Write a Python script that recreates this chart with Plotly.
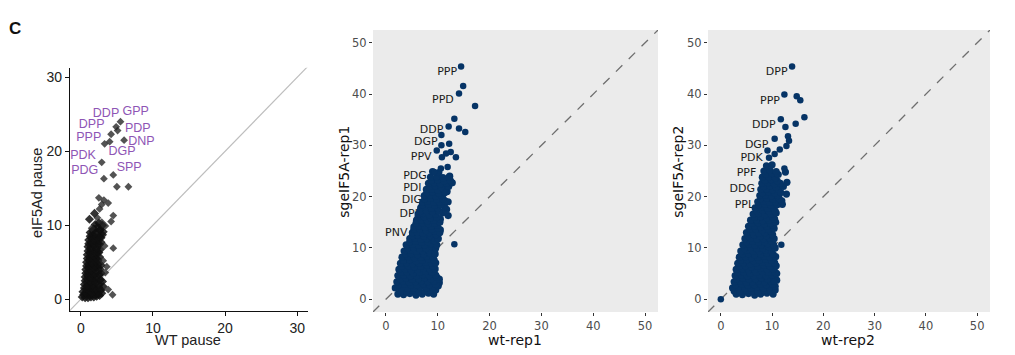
import plotly.graph_objects as go

W, H = 1015, 355

# ---------------- Panel 1 data: WT pause vs eIF5Ad pause ----------------
p1_sparse_x = [5.5, 4.9, 5.1, 4.2, 6.0, 4.0, 3.3, 2.9, 4.5, 3.2, 5.0, 6.6,
               2.5, 3.2, 3.8, 2.9, 2.6, 4.5, 4.2, 1.5, 3.3, 4.5, 3.8, 4.4, 3.4, 3.1, 3.6, 2.9, 3.4, 2.3]
p1_sparse_y = [24.0, 23.3, 22.8, 22.3, 21.5, 21.3, 21.0, 18.5, 16.8, 16.3, 15.2, 15.2,
               13.7, 13.4, 13.0, 12.8, 12.2, 11.3, 10.5, 9.6, 7.2, 6.9, 1.3, 0.6, 3.6, 5.2, 4.4, 10.4, 9.9, 11.0]
p1_x = [0.2, 0.6, 1.0, 1.4, 1.8, 2.2, 2.6,
        0.4, 0.8, 1.2, 1.6, 2.0, 2.4, 2.9,
        0.3, 0.7, 1.1, 1.5, 1.9, 2.3, 2.8,
        0.5, 0.9, 1.3, 1.7, 2.1, 2.5, 3.1,
        0.5, 0.9, 1.3, 1.7, 2.1, 2.5, 3.0,
        0.6, 1.0, 1.4, 1.8, 2.2, 2.7,
        0.6, 1.0, 1.4, 1.8, 2.2, 2.6,
        0.7, 1.1, 1.5, 1.9, 2.3, 2.8,
        0.7, 1.1, 1.5, 1.9, 2.3, 2.7,
        0.8, 1.2, 1.6, 2.0, 2.4, 2.8,
        0.8, 1.2, 1.6, 2.0, 2.4,
        0.9, 1.3, 1.7, 2.1, 2.6,
        0.9, 1.3, 1.7, 2.1, 2.5,
        1.0, 1.4, 1.8, 2.2, 2.7,
        1.0, 1.4, 1.8, 2.2, 2.6,
        1.1, 1.5, 1.9, 2.3, 2.8,
        1.1, 1.5, 1.9, 2.3, 2.8,
        1.3, 1.7, 2.1, 2.5, 3.0,
        1.3, 1.7, 2.1, 2.6, 3.1,
        1.8, 2.2, 2.7,
        2.0, 2.5, 3.0, 1.2, 1.9]
p1_y = [0.3, 0.2, 0.2, 0.3, 0.3, 0.4, 0.5,
        0.6, 0.7, 0.6, 0.7, 0.6, 0.7, 0.8,
        1.0, 0.9, 1.0, 0.9, 1.1, 1.0, 1.2,
        1.5, 1.4, 1.6, 1.5, 1.4, 1.6, 1.7,
        2.0, 1.8, 2.1, 1.9, 2.2, 2.0, 2.4,
        2.5, 2.6, 2.4, 2.5, 2.7, 2.6,
        3.0, 3.1, 2.9, 3.2, 3.0, 3.3,
        3.5, 3.6, 3.4, 3.5, 3.7, 3.5,
        4.0, 4.2, 3.9, 4.1, 4.3, 4.0,
        4.5, 4.6, 4.4, 4.5, 4.7, 4.6,
        5.0, 5.2, 4.9, 5.1, 5.3,
        5.5, 5.6, 5.4, 5.5, 5.7,
        6.0, 6.2, 5.9, 6.1, 6.3,
        6.5, 6.6, 6.4, 6.5, 6.7,
        7.1, 7.0, 7.2, 6.9, 7.4,
        7.5, 7.6, 7.4, 7.5, 7.7,
        8.0, 8.2, 7.9, 8.1, 8.3,
        8.5, 8.6, 8.4, 8.5, 8.7,
        9.0, 9.2, 8.9, 9.3, 9.1,
        9.5, 9.6, 9.4,
        10.1, 10.3, 10.0, 10.8, 11.6]
p1_lab = ["DDP", "GPP", "DPP", "PDP", "PPP", "DNP", "PDK", "DGP", "PDG", "SPP"]
p1_lab_x = [3.5, 7.6, 1.5, 7.9, 1.1, 8.4, 0.3, 5.7, 0.55, 6.7]
p1_lab_y = [25.0, 25.3, 23.5, 23.0, 21.8, 21.3, 19.4, 19.9, 17.3, 17.7]

# ---------------- Panel 2 data: wt-rep1 vs sgeIF5A-rep1 ----------------
p2_sparse_x = [14.5, 14.9, 14.1, 17.2, 13.2, 12.1, 14.1, 15.3, 10.7, 12.2, 10.7, 9.8, 12.5, 11.6,
               10.8, 13.5, 11.9, 10.6, 9.3, 13.2]
p2_sparse_y = [45.4, 41.6, 40.1, 37.7, 35.2, 33.7, 33.3, 32.6, 32.0, 30.3, 30.0, 29.0, 28.7, 28.4,
               27.7, 27.7, 25.8, 25.5, 24.8, 10.7]
p2_x = [12.3, 12.6, 11.8, 12.0, 11.7, 12.0, 10.5, 10.3,
        2.3, 3.4, 4.6, 5.8, 7.0, 8.2, 9.2,
        2.9, 4.0, 5.2, 6.4, 7.6, 8.6, 9.6,
        1.8, 3.0, 4.2, 5.4, 6.6, 7.8, 9.0, 10.1,
        2.4, 3.6, 4.8, 6.0, 7.2, 8.4, 9.6,
        2.1, 3.3, 4.5, 5.7, 6.9, 8.1, 9.3, 10.3,
        2.7, 3.9, 5.1, 6.3, 7.5, 8.7, 9.8,
        2.3, 3.5, 4.7, 5.9, 7.1, 8.3, 9.6,
        2.9, 4.1, 5.3, 6.5, 7.7, 8.9,
        2.5, 3.7, 4.9, 6.1, 7.3, 8.5, 9.5,
        3.1, 4.3, 5.5, 6.7, 7.9, 9.1,
        2.8, 4.0, 5.2, 6.4, 7.6, 8.8, 9.6,
        3.4, 4.6, 5.8, 7.0, 8.2, 9.3,
        3.1, 4.3, 5.5, 6.7, 7.9, 9.1,
        3.8, 4.9, 6.1, 7.3, 8.5, 9.5,
        3.5, 4.7, 5.9, 7.1, 8.3, 9.4,
        4.2, 5.3, 6.5, 7.7, 8.9, 9.6,
        3.9, 5.1, 6.3, 7.5, 8.7, 9.8,
        4.6, 5.7, 6.9, 8.1, 9.3,
        4.6, 5.6, 6.7, 7.9, 9.1, 10.1,
        5.1, 6.1, 7.3, 8.5, 9.7,
        5.1, 6.0, 7.1, 8.3, 9.5, 10.4,
        5.4, 6.5, 7.7, 8.9, 10.1,
        5.4, 6.3, 7.5, 8.7, 9.9,
        5.8, 7.0, 8.2, 9.4, 10.4,
        5.9, 6.8, 8.0, 9.2, 10.5,
        6.2, 7.4, 8.6, 9.8,
        6.2, 7.2, 8.4, 9.6, 10.9,
        6.6, 7.8, 9.0, 10.2,
        6.7, 7.6, 8.8, 10.0, 11.3,
        7.0, 8.2, 9.4, 10.6,
        7.1, 8.0, 9.2, 10.3, 11.4,
        7.5, 8.6, 9.8, 11.0,
        7.4, 8.5, 9.6, 10.8,
        7.9, 9.0, 10.2, 11.4,
        7.8, 8.9, 10.0, 11.3,
        8.4, 9.5, 10.7, 12.1,
        8.2, 9.3, 10.5, 11.7, 12.8,
        8.8, 10.0, 11.2, 12.4,
        8.6, 9.8, 11.0, 12.2,
        9.0, 10.2]
p2_y = [24.0, 22.8, 21.0, 19.0, 17.5, 16.3, 13.5, 3.2,
        1.0, 0.9, 1.1, 0.8, 1.0, 1.2, 1.0,
        1.6, 1.5, 1.7, 1.6, 1.5, 1.7, 1.8,
        2.2, 2.3, 2.1, 2.2, 2.4, 2.2, 2.3, 2.6,
        2.8, 2.9, 2.7, 2.8, 3.0, 2.8, 2.9,
        3.4, 3.5, 3.3, 3.4, 3.6, 3.4, 3.5, 3.9,
        4.0, 4.1, 3.9, 4.0, 4.2, 4.0, 4.3,
        4.6, 4.7, 4.5, 4.6, 4.8, 4.6, 4.7,
        5.2, 5.3, 5.1, 5.2, 5.4, 5.2,
        5.8, 5.9, 5.7, 5.8, 6.0, 5.8, 5.9,
        6.4, 6.5, 6.3, 6.4, 6.6, 6.4,
        7.0, 7.1, 6.9, 7.0, 7.2, 7.0, 7.1,
        7.6, 7.7, 7.5, 7.6, 7.8, 7.6,
        8.2, 8.3, 8.1, 8.2, 8.4, 8.2,
        8.8, 8.9, 8.7, 8.8, 9.0, 8.8,
        9.4, 9.5, 9.3, 9.4, 9.6, 9.4,
        10.0, 10.1, 9.9, 10.0, 10.2, 10.0,
        10.6, 10.7, 10.5, 10.6, 10.8, 10.6,
        11.2, 11.3, 11.1, 11.2, 11.4,
        11.8, 11.9, 11.7, 11.8, 12.0, 11.8,
        12.4, 12.5, 12.3, 12.4, 12.6,
        13.0, 13.1, 12.9, 13.0, 13.2, 13.0,
        13.6, 13.7, 13.5, 13.6, 13.8,
        14.1, 14.3, 14.1, 14.2, 14.4,
        14.8, 14.9, 14.7, 14.8, 15.0,
        15.4, 15.5, 15.3, 15.4, 15.6,
        16.0, 16.1, 15.9, 16.0,
        16.6, 16.7, 16.5, 16.6, 16.8,
        17.2, 17.3, 17.1, 17.2,
        17.8, 17.9, 17.7, 17.8, 18.0,
        18.4, 18.5, 18.3, 18.4,
        19.0, 19.1, 18.9, 19.0, 19.2,
        19.6, 19.7, 19.5, 19.6,
        20.2, 20.3, 20.1, 20.2,
        20.8, 20.9, 20.7, 20.8,
        21.4, 21.5, 21.3, 21.4,
        22.0, 22.1, 21.9, 22.0,
        22.6, 22.7, 22.5, 22.6, 22.7,
        23.2, 23.3, 23.1, 23.2,
        23.8, 23.9, 23.7, 23.8,
        24.9, 24.7]
p2_lab = ["PPP", "PPD", "DDP", "DGP", "PPV", "PDG", "PDI", "DIG", "DPI", "PNV"]
p2_lab_x = [11.8, 11.0, 8.8, 7.7, 6.8, 5.6, 5.1, 5.0, 4.4, 2.0]
p2_lab_y = [44.2, 38.8, 33.0, 30.6, 27.7, 24.0, 21.6, 19.3, 16.6, 12.8]

# ---------------- Panel 3 data: wt-rep2 vs sgeIF5A-rep2 ----------------
p3_sparse_x = [13.9, 12.4, 14.8, 15.5, 16.3, 11.7, 14.6, 12.6, 13.1, 10.5, 13.3, 12.8, 9.1, 11.5,
               10.5, 9.4, 12.4, 0.0, 11.8, 10.4]
p3_sparse_y = [45.4, 39.9, 39.6, 38.8, 35.5, 35.1, 34.2, 33.6, 31.8, 31.3, 30.9, 29.9, 29.0, 29.2,
               28.3, 27.6, 25.5, 0.0, 10.6, 3.4]
p3_x = [12.8, 12.9, 12.6, 12.0,
        3.0, 4.2, 5.4, 6.6, 7.8, 9.0, 10.2,
        2.6, 3.7, 4.9, 6.1, 7.3, 8.5, 9.7, 10.6,
        2.3, 3.5, 4.7, 5.9, 7.1, 8.3, 9.5, 10.6,
        2.9, 4.1, 5.3, 6.5, 7.7, 8.9, 10.1,
        2.6, 3.8, 5.0, 6.2, 7.4, 8.6, 9.8, 10.9,
        3.1, 4.3, 5.5, 6.7, 7.9, 9.1, 10.3,
        2.8, 4.0, 5.2, 6.4, 7.6, 8.8, 10.0, 10.9,
        3.3, 4.5, 5.7, 6.9, 8.1, 9.3, 10.6,
        3.0, 4.2, 5.4, 6.6, 7.8, 9.0, 10.2,
        3.6, 4.8, 6.0, 7.2, 8.4, 9.6, 10.8,
        3.3, 4.5, 5.7, 6.9, 8.1, 9.3, 10.5,
        3.9, 5.1, 6.3, 7.5, 8.7, 9.9,
        3.6, 4.8, 6.0, 7.2, 8.4, 9.6, 10.7,
        4.2, 5.4, 6.6, 7.8, 9.0, 10.2,
        3.9, 5.1, 6.3, 7.5, 8.7, 9.9,
        4.6, 5.8, 7.0, 8.2, 9.4, 10.6,
        4.3, 5.5, 6.7, 7.9, 9.1, 10.3,
        5.0, 6.2, 7.4, 8.6, 9.8,
        4.7, 5.9, 7.1, 8.3, 9.5, 10.4,
        5.3, 6.5, 7.7, 8.9, 10.1,
        5.0, 6.2, 7.4, 8.6, 9.8,
        5.7, 6.9, 8.1, 9.3, 10.4,
        5.4, 6.6, 7.8, 9.0, 10.2,
        6.1, 7.3, 8.5, 9.7, 10.7,
        5.8, 7.0, 8.2, 9.4, 10.5,
        6.6, 7.8, 9.0, 10.2,
        6.3, 7.4, 8.6, 9.8, 10.8,
        7.0, 8.2, 9.4, 10.6,
        6.7, 7.9, 9.1, 10.3,
        7.4, 8.6, 9.8, 11.0,
        7.2, 8.3, 9.5, 10.7, 11.9,
        7.8, 9.0, 10.2, 11.4,
        7.6, 8.7, 9.9, 11.1,
        8.1, 9.3, 10.5, 11.7,
        7.8, 8.9, 10.1, 11.3,
        8.4, 9.6, 10.8, 12.2,
        8.0, 9.2, 10.4, 11.6,
        8.6, 9.8, 11.0,
        8.1, 9.4, 10.6,
        8.8, 10.0, 11.2,
        8.4, 9.6, 10.8,
        8.9, 10.0]
p3_y = [20.5, 22.8, 24.8, 18.5,
        1.0, 0.9, 1.1, 0.8, 1.0, 1.2, 1.0,
        1.6, 1.5, 1.7, 1.6, 1.5, 1.7, 1.6, 1.8,
        2.2, 2.3, 2.1, 2.2, 2.4, 2.2, 2.3, 2.5,
        2.8, 2.9, 2.7, 2.8, 3.0, 2.8, 2.9,
        3.4, 3.5, 3.3, 3.4, 3.6, 3.4, 3.5, 3.7,
        4.0, 4.1, 3.9, 4.0, 4.2, 4.0, 4.1,
        4.6, 4.7, 4.5, 4.6, 4.8, 4.6, 4.7, 5.0,
        5.2, 5.3, 5.1, 5.2, 5.4, 5.2, 5.3,
        5.8, 5.9, 5.7, 5.8, 6.0, 5.8, 5.9,
        6.4, 6.5, 6.3, 6.4, 6.6, 6.4, 6.5,
        7.0, 7.1, 6.9, 7.0, 7.2, 7.0, 7.1,
        7.6, 7.7, 7.5, 7.6, 7.8, 7.6,
        8.2, 8.3, 8.1, 8.2, 8.4, 8.2, 8.3,
        8.8, 8.9, 8.7, 8.8, 9.0, 8.8,
        9.4, 9.5, 9.3, 9.4, 9.6, 9.4,
        10.0, 10.1, 9.9, 10.0, 10.2, 10.0,
        10.6, 10.7, 10.5, 10.6, 10.8, 10.6,
        11.2, 11.3, 11.1, 11.2, 11.4,
        11.8, 11.9, 11.7, 11.8, 12.0, 11.8,
        12.4, 12.5, 12.3, 12.4, 12.6,
        13.0, 13.1, 12.9, 13.0, 13.2,
        13.6, 13.7, 13.5, 13.6, 13.8,
        14.2, 14.3, 14.1, 14.2, 14.4,
        14.8, 14.9, 14.7, 14.8, 15.0,
        15.4, 15.5, 15.3, 15.4, 15.6,
        16.0, 16.1, 15.9, 16.0,
        16.6, 16.7, 16.5, 16.6, 16.8,
        17.2, 17.3, 17.1, 17.2,
        17.8, 17.9, 17.7, 17.8,
        18.4, 18.5, 18.3, 18.4,
        19.0, 19.1, 18.9, 19.0, 19.2,
        19.6, 19.7, 19.5, 19.6,
        20.2, 20.3, 20.1, 20.2,
        20.8, 20.9, 20.7, 20.8,
        21.4, 21.5, 21.3, 21.4,
        22.0, 22.1, 21.9, 22.0,
        22.6, 22.7, 22.5, 22.6,
        23.2, 23.3, 23.1,
        23.8, 23.9, 23.7,
        24.4, 24.5, 24.3,
        25.0, 25.1, 24.9,
        26.0, 26.2]
p3_lab = ["DPP", "PPP", "DDP", "DGP", "PDK", "PPF", "DDG", "PPL"]
p3_lab_x = [10.9, 9.6, 8.4, 7.0, 6.0, 5.0, 4.2, 4.6]
p3_lab_y = [44.3, 38.6, 33.9, 30.1, 27.5, 24.6, 21.4, 18.4]

ticks_p1 = [0, 10, 20, 30]
ticks_p23 = [0, 10, 20, 30, 40, 50]
diag = [-5, 60]

NAVY = "#063466"
PURPLE = "#8e55b5"


def px2x(p):
    return p / W


def py2y(p):
    return 1 - p / H


fig = go.Figure()

# Panel 1
fig.add_trace(go.Scatter(x=diag, y=diag, mode="lines", line=dict(color="#bdbdbd", width=1.2),
                         xaxis="x", yaxis="y", hoverinfo="skip"))
fig.add_trace(go.Scatter(x=p1_x, y=p1_y, mode="markers",
                         marker=dict(symbol="diamond", size=7, color="rgba(15,15,15,0.85)", line=dict(width=0)),
                         xaxis="x", yaxis="y"))
fig.add_trace(go.Scatter(x=p1_sparse_x, y=p1_sparse_y, mode="markers",
                         marker=dict(symbol="diamond", size=6, color="rgba(35,35,35,0.78)", line=dict(width=0)),
                         xaxis="x", yaxis="y"))
fig.add_trace(go.Scatter(x=p1_lab_x, y=p1_lab_y, text=p1_lab, mode="text", textposition="middle center",
                         textfont=dict(family="Liberation Sans", size=12.5, color=PURPLE),
                         xaxis="x", yaxis="y", cliponaxis=False))

# Panels 2 and 3: labels drawn first so the points sit above them
for (ax, ay, sx, sy, dx, dy, lt, lx, ly) in [
        ("x2", "y2", p2_sparse_x, p2_sparse_y, p2_x, p2_y, p2_lab, p2_lab_x, p2_lab_y),
        ("x3", "y3", p3_sparse_x, p3_sparse_y, p3_x, p3_y, p3_lab, p3_lab_x, p3_lab_y)]:
    fig.add_trace(go.Scatter(x=diag, y=diag, mode="lines", line=dict(color="#6e6e6e", width=1.3, dash="dash"),
                             xaxis=ax, yaxis=ay, hoverinfo="skip"))
    fig.add_trace(go.Scatter(x=lx, y=ly, text=lt, mode="text", textposition="middle center",
                             textfont=dict(family="DejaVu Sans", size=11, color="#1a1a1a"),
                             xaxis=ax, yaxis=ay))
    fig.add_trace(go.Scatter(x=dx, y=dy, mode="markers",
                             marker=dict(size=7.2, color=NAVY, line=dict(width=0)),
                             xaxis=ax, yaxis=ay))
    fig.add_trace(go.Scatter(x=sx, y=sy, mode="markers",
                             marker=dict(size=6.5, color=NAVY, line=dict(width=0)),
                             xaxis=ax, yaxis=ay))

ydom = [py2y(312), py2y(30)]
ax1 = dict(domain=[px2x(70), px2x(308)], range=[-1.5, 31.5], tickvals=ticks_p1, showgrid=False,
           zeroline=False, showline=True, linecolor="#111", linewidth=1.2, ticks="outside",
           ticklen=4, tickcolor="#111", tickfont=dict(family="Liberation Sans", size=14, color="#222"))
ay1 = dict(ax1)
ay1["domain"] = [py2y(311), py2y(67.7)]
ay1["range"] = [-1.6, 31.3]
ax1["anchor"] = "y"
ay1["anchor"] = "x"


def ax23(dom, anchor):
    return dict(domain=dom, range=[-2.5, 52.5], tickvals=ticks_p23, showgrid=False, zeroline=False,
                showline=False, ticks="outside", ticklen=3, tickcolor="#333", anchor=anchor,
                tickfont=dict(family="DejaVu Sans", size=11.5, color="#4d4d4d"))


fig.update_layout(
    width=W, height=H, margin=dict(l=0, r=0, t=0, b=0),
    paper_bgcolor="white", plot_bgcolor="rgba(0,0,0,0)",
    xaxis=ax1, yaxis=ay1,
    xaxis2=ax23([px2x(373), px2x(658)], "y2"),
    yaxis2=ax23(ydom, "x2"),
    xaxis3=ax23([px2x(708), px2x(990)], "y3"),
    yaxis3=ax23(ydom, "x3"),
    showlegend=False,
)

for xr, yr in [("x2", "y2"), ("x3", "y3")]:
    fig.add_shape(type="rect", xref=xr + " domain", yref=yr + " domain", x0=0, x1=1, y0=0, y1=1,
                  fillcolor="#ebebeb", line=dict(width=0), layer="below")

anns = []
titles = [
    ("WT pause", 188, 340, 0, "Liberation Sans", 14.5, "#222"),
    ("eIF5Ad pause", 37, 193, -90, "Liberation Sans", 14.5, "#222"),
    ("wt-rep1", 515, 339.5, 0, "DejaVu Sans", 14, "#111"),
    ("sgeIF5A-rep1", 344, 171.7, -90, "DejaVu Sans", 14, "#111"),
    ("wt-rep2", 848, 339.5, 0, "DejaVu Sans", 14, "#111"),
    ("sgeIF5A-rep2", 678, 171.7, -90, "DejaVu Sans", 14, "#111"),
]
for t, x, y, ang, fam, sz, col in titles:
    anns.append(dict(text=t, x=px2x(x), y=py2y(y), xref="paper", yref="paper", showarrow=False,
                     textangle=ang, xanchor="center", yanchor="middle",
                     font=dict(family=fam, size=sz, color=col)))
anns.append(dict(text="<b>C</b>", x=px2x(14.5), y=py2y(28), xref="paper", yref="paper", showarrow=False,
                 xanchor="center", yanchor="middle", font=dict(family="Liberation Sans", size=17, color="#111")))

fig.update_layout(annotations=anns)
fig.write_html("out.html")
